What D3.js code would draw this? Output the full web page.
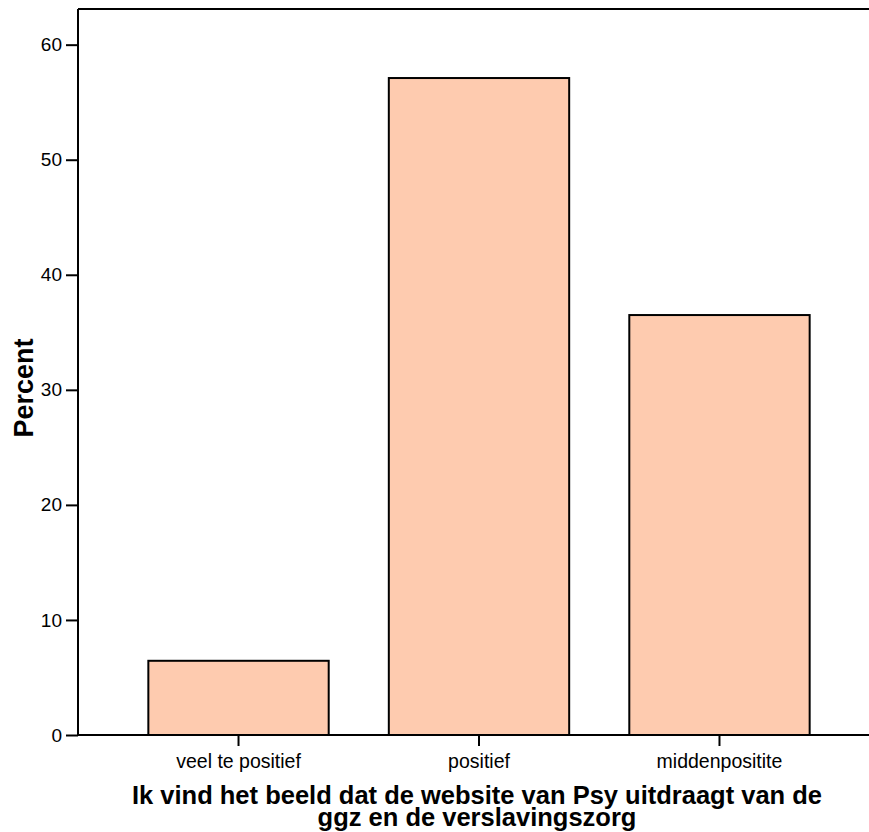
<!DOCTYPE html>
<html>
<head>
<meta charset="utf-8">
<script src="https://cdn.jsdelivr.net/npm/d3@7"></script>
<style>
  html, body { margin: 0; padding: 0; background: #fff; }
  svg { display: block; }
  text { font-family: "Liberation Sans", Arial, Helvetica, sans-serif; fill: #000; }
</style>
</head>
<body>
<svg id="chart" width="869" height="832"></svg>
<script>
const categories = ["veel te positief", "positief", "middenpositite"];
const percentValues = [6.45, 57.1, 36.5];
const yTickValues = [0, 10, 20, 30, 40, 50, 60];
const yAxisTitle = "Percent";
const xAxisTitleLines = ["Ik vind het beeld dat de website van Psy uitdraagt van de", "ggz en de verslavingszorg"];

const svg = d3.select("#chart");
const W = 869, H = 832;
const plotLeft = 78, plotTop = 9, plotBottom = 735, plotRight = 880;

const x = d3.scaleBand().domain(categories).range([plotLeft, plotRight]).paddingInner(0.25).paddingOuter(0.2925);
const y = d3.scaleLinear().domain([0, 63.1]).range([plotBottom, plotTop]);

// bars
svg.append("g").selectAll("rect").data(categories).join("rect")
  .attr("x", d => x(d))
  .attr("y", (d, i) => y(percentValues[i]))
  .attr("width", x.bandwidth())
  .attr("height", (d, i) => y(0) - y(percentValues[i]))
  .attr("fill", "#fecbaf")
  .attr("stroke", "#000")
  .attr("stroke-width", 2);

// frame top line
svg.append("line").attr("x1", plotLeft).attr("x2", W).attr("y1", plotTop).attr("y2", plotTop)
  .attr("stroke", "#000").attr("stroke-width", 2);

// y axis
const yAxis = d3.axisLeft(y).tickValues(yTickValues).tickSize(12).tickPadding(4).tickFormat(d3.format("d"));
const gy = svg.append("g").attr("transform", `translate(${plotLeft},0)`).call(yAxis);
gy.select(".domain").attr("stroke-width", 2).attr("d", `M0,${plotBottom}V${plotTop}`);
gy.selectAll(".tick line").attr("stroke-width", 2);
gy.selectAll(".tick text").attr("font-size", 19).attr("font-family", "Liberation Sans, Arial, sans-serif").attr("fill", "#000");

// x axis
const xAxis = d3.axisBottom(x).tickSize(11).tickPadding(8);
const gx = svg.append("g").attr("transform", `translate(0,${plotBottom})`).call(xAxis);
gx.select(".domain").attr("stroke-width", 2).attr("d", `M${plotLeft},0H${W}`);
gx.selectAll(".tick line").attr("stroke-width", 2);
gx.selectAll(".tick text").attr("font-size", 19.5).attr("font-family", "Liberation Sans, Arial, sans-serif").attr("fill", "#000");

// y title
svg.append("text")
  .attr("transform", `translate(33,${(plotTop + plotBottom) / 2 + 16}) rotate(-90)`)
  .attr("text-anchor", "middle")
  .attr("font-weight", "bold")
  .attr("font-size", 27)
  .text(yAxisTitle);

// x title
svg.append("text")
  .attr("text-anchor", "middle")
  .attr("font-weight", "bold")
  .attr("font-size", 25.5)
  .selectAll("tspan").data(xAxisTitleLines).join("tspan")
  .attr("x", 477)
  .attr("y", (d, i) => 804 + i * 22)
  .text(d => d);
</script>
</body>
</html>
